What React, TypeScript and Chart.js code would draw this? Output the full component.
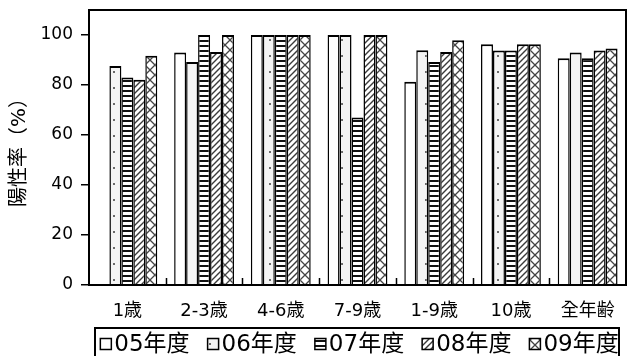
import React, { useEffect, useRef } from 'react';
import { Chart, registerables } from 'chart.js';

Chart.register(...registerables);

// Age groups along the x axis
const categories = ['1歳', '2-3歳', '4-6歳', '7-9歳', '1-9歳', '10歳', '全年齢'];
// Fiscal-year series
const seriesNames = ['05年度', '06年度', '07年度', '08年度', '09年度'];
// Positivity rate (%) per age group
const fy05 = [null, 93.0, 100, 100, 81.3, 96.3, 90.7];
const fy06 = [87.6, 89.2, 100, 100, 93.9, 93.8, 93.0];
const fy07 = [83.0, 100, 100, 67.0, 89.2, 93.8, 90.7];
const fy08 = [82.1, 93.2, 100, 100, 93.2, 96.3, 93.8];
const fy09 = [91.7, 100, 100, 100, 97.9, 96.3, 94.6];
const yTicks = [0, 20, 40, 60, 80, 100];
const yTitle = '陽性率（%）';

const FONT = '"DejaVu Sans", "Noto Sans CJK TC", sans-serif';

type Kind = 'plain' | 'dots' | 'hlines' | 'diag' | 'cross';
const seriesFills: Kind[] = ['plain', 'dots', 'hlines', 'diag', 'cross'];

function makeFill(kind: Kind): string | CanvasPattern {
  if (kind === 'plain') return '#ffffff';
  const c = document.createElement('canvas');
  let ctx: CanvasRenderingContext2D;
  if (kind === 'dots') {
    c.width = 12; c.height = 16;
    ctx = c.getContext('2d')!;
    ctx.fillStyle = '#f4f4f4';
    ctx.fillRect(0, 0, 12, 16);
    ctx.fillStyle = '#6a6a6a';
    ctx.fillRect(5, 7, 2, 2);
  } else if (kind === 'hlines') {
    c.width = 4; c.height = 5;
    ctx = c.getContext('2d')!;
    ctx.fillStyle = '#ffffff';
    ctx.fillRect(0, 0, 4, 5);
    ctx.fillStyle = '#111111';
    ctx.fillRect(0, 0, 4, 2);
  } else if (kind === 'diag') {
    c.width = 6; c.height = 6;
    ctx = c.getContext('2d')!;
    ctx.fillStyle = '#ffffff';
    ctx.fillRect(0, 0, 6, 6);
    ctx.strokeStyle = '#3a3a3a';
    ctx.lineWidth = 1.4;
    ctx.beginPath();
    ctx.moveTo(0, 6); ctx.lineTo(6, 0);
    ctx.moveTo(-1, 1); ctx.lineTo(1, -1);
    ctx.moveTo(5, 7); ctx.lineTo(7, 5);
    ctx.stroke();
  } else {
    c.width = 10; c.height = 10;
    ctx = c.getContext('2d')!;
    ctx.fillStyle = '#ffffff';
    ctx.fillRect(0, 0, 10, 10);
    ctx.strokeStyle = '#444444';
    ctx.lineWidth = 1.3;
    ctx.beginPath();
    ctx.moveTo(0, 0); ctx.lineTo(10, 10);
    ctx.moveTo(0, 10); ctx.lineTo(10, 0);
    ctx.stroke();
  }
  return ctx.createPattern(c, 'repeat')!;
}

// Black frame around the plot area
const framePlugin = {
  id: 'frame',
  afterDatasetsDraw(chart: any) {
    const { ctx, chartArea: a } = chart;
    ctx.save();
    ctx.strokeStyle = '#000';
    ctx.lineWidth = 2;
    ctx.strokeRect(a.left, a.top, a.right - a.left, a.bottom - a.top);
    ctx.restore();
  },
};

// Short inward tick marks between the category groups
const innerTicksPlugin = {
  id: 'innerTicks',
  afterDatasetsDraw(chart: any) {
    const { ctx, chartArea: a } = chart;
    const xs = chart.scales.x;
    ctx.save();
    ctx.strokeStyle = '#000';
    ctx.lineWidth = 1.5;
    ctx.beginPath();
    for (let i = 0; i < categories.length - 1; i++) {
      const x = Math.round((xs.getPixelForValue(i) + xs.getPixelForValue(i + 1)) / 2) + 0.5;
      ctx.moveTo(x, a.bottom);
      ctx.lineTo(x, a.bottom - 7);
    }
    ctx.stroke();
    ctx.restore();
  },
};

// Boxed legend row under the axis labels
const boxedLegendPlugin = {
  id: 'boxedLegend',
  afterDraw(chart: any) {
    const { ctx, chartArea: a } = chart;
    ctx.save();
    ctx.font = `23px ${FONT}`;
    const box = 11;
    const boxGap = 3;
    const itemGap = 18;
    const items = chart.data.datasets.map((d: any) => ({
      label: d.label as string,
      fill: d.backgroundColor,
      w: ctx.measureText(d.label).width,
    }));
    const total =
      items.reduce((s: number, it: any) => s + box + boxGap + it.w, 0) + itemGap * (items.length - 1);
    let x = (a.left + a.right) / 2 - total / 2 + 2;
    const cy = 344;
    ctx.strokeStyle = '#000';
    ctx.lineWidth = 2;
    ctx.strokeRect(Math.round(x - 5), 328, Math.round(total + 6), 40);
    ctx.textBaseline = 'middle';
    ctx.textAlign = 'left';
    for (const it of items) {
      ctx.fillStyle = it.fill;
      ctx.fillRect(x, cy - box / 2, box, box);
      ctx.lineWidth = 1.5;
      ctx.strokeRect(x, cy - box / 2, box, box);
      ctx.fillStyle = '#000';
      ctx.fillText(it.label, x + box + boxGap, cy + 1);
      x += box + boxGap + it.w + itemGap;
    }
    ctx.restore();
  },
};

export default function App() {
  const ref = useRef<HTMLCanvasElement>(null);

  useEffect(() => {
    if (!ref.current) return;
    Chart.defaults.font.family = FONT;
    Chart.defaults.color = '#000';
    const seriesData = [fy05, fy06, fy07, fy08, fy09];
    const chart = new Chart(ref.current, {
      type: 'bar',
      data: {
        labels: categories,
        datasets: seriesData.map((data, i) => ({
          label: seriesNames[i],
          data: data as any,
          backgroundColor: makeFill(seriesFills[i]) as any,
          borderColor: '#000',
          borderWidth: { top: 2, left: 1.5, right: 1.5, bottom: 0 },
          categoryPercentage: 0.78,
          barPercentage: 1,
        })),
      },
      options: {
        responsive: false,
        animation: false,
        devicePixelRatio: 1,
        layout: { padding: { left: 4, right: 2, top: 10, bottom: 0 } },
        plugins: {
          legend: { display: false },
          tooltip: { enabled: false },
        },
        scales: {
          x: {
            grid: { display: false },
            border: { display: false },
            ticks: {
              color: '#000',
              font: { size: 18 },
              padding: 8,
              maxRotation: 0,
              autoSkip: false,
            },
            afterFit: (s: any) => {
              s.height = 71;
              s.paddingLeft = 0;
              s.paddingRight = 0;
            },
          },
          y: {
            min: 0,
            max: 110,
            grid: {
              drawOnChartArea: false,
              drawTicks: true,
              tickLength: 8,
              color: '#000',
              lineWidth: 1.5,
            },
            border: { display: false },
            ticks: { color: '#000', font: { size: 17 }, padding: 8 },
            afterBuildTicks: (s: any) => {
              s.ticks = yTicks.map((v) => ({ value: v }));
            },
            afterFit: (s: any) => {
              s.width = 85;
              s.paddingTop = 0;
              s.paddingBottom = 0;
            },
            title: {
              display: true,
              text: yTitle,
              color: '#000',
              font: { size: 20 },
              padding: { top: 4, bottom: 4 },
            },
          },
        },
      },
      plugins: [framePlugin, innerTicksPlugin, boxedLegendPlugin],
    });
    return () => chart.destroy();
  }, []);

  return (
    <div style={{ position: 'fixed', left: 0, top: 0, width: 628, height: 356, background: '#fff' }}>
      <canvas ref={ref} width={628} height={356} style={{ display: 'block' }} />
    </div>
  );
}
